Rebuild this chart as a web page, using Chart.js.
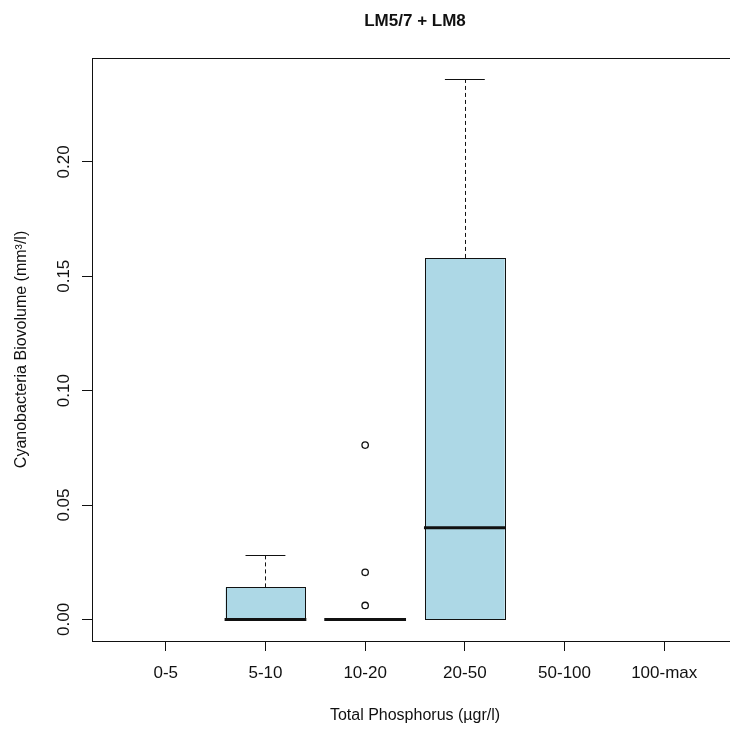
<!DOCTYPE html>
<html>
<head>
<meta charset="utf-8">
<script src="https://cdn.jsdelivr.net/npm/chart.js@4/dist/chart.umd.min.js"></script>
<style>
  html, body { margin: 0; padding: 0; background: #fff; overflow: hidden; }
  canvas { display: block; }
</style>
</head>
<body>
<canvas id="boxChart" width="745" height="731"></canvas>
<script>
const categories = ['0-5', '5-10', '10-20', '20-50', '50-100', '100-max'];
const q1 = [null, 0, 0, 0, null, null];
const q3 = [null, 0.014, 0, 0.158, null, null];
const medians = [null, 0, 0, 0.0401, null, null];
const whiskerLow = [null, 0, 0, 0, null, null];
const whiskerHigh = [null, 0.028, 0, 0.236, null, null];
const outliers = [[], [], [0.0762, 0.0206, 0.0061], [], [], []];
const yTicks = [0, 0.05, 0.10, 0.15, 0.20];

const font = '"Liberation Sans", Arial, sans-serif';
const ink = '#111';

// R pads the data range by 4% on each side
const yMax = 0.236;
const yMin = 0;
const yPad = (yMax - yMin) * 0.04;

const boxData = [];
categories.forEach((c, i) => {
  if (q1[i] !== null) boxData.push({ x: i + 1, y: [q1[i], q3[i]] });
});
const outlierData = [];
outliers.forEach((list, i) => list.forEach(v => outlierData.push({ x: i + 1, y: v })));

const crisp = v => Math.round(v) + 0.5;

const boxExtras = {
  id: 'boxExtras',
  afterDatasetsDraw(chart) {
    const { ctx, scales: { x, y } } = chart;
    ctx.save();
    ctx.strokeStyle = ink;
    // box outlines, from the bar elements
    ctx.lineWidth = 1;
    chart.getDatasetMeta(0).data.forEach(el => {
      const l = crisp(el.x - el.width / 2), r = crisp(el.x + el.width / 2);
      const t = crisp(Math.min(el.y, el.base)), b = crisp(Math.max(el.y, el.base));
      ctx.strokeRect(l, t, r - l, b - t);
    });
    categories.forEach((c, i) => {
      if (medians[i] === null) return;
      const cx = x.getPixelForValue(i + 1);
      const half = x.getPixelForValue(i + 1.2) - cx; // staple half width
      const boxHalf = x.getPixelForValue(i + 1.4) - cx;
      // whiskers
      [[q3[i], whiskerHigh[i]], [q1[i], whiskerLow[i]]].forEach(([from, to]) => {
        if (from === to) return;
        ctx.lineWidth = 1;
        ctx.setLineDash([4, 3]);
        ctx.beginPath();
        ctx.moveTo(crisp(cx), y.getPixelForValue(from));
        ctx.lineTo(crisp(cx), y.getPixelForValue(to));
        ctx.stroke();
        ctx.setLineDash([]);
        const ty = crisp(y.getPixelForValue(to));
        ctx.beginPath();
        ctx.moveTo(cx - half, ty);
        ctx.lineTo(cx + half, ty);
        ctx.stroke();
      });
      // median
      ctx.lineWidth = 3;
      ctx.setLineDash([]);
      const my = y.getPixelForValue(medians[i]);
      ctx.beginPath();
      ctx.moveTo(cx - boxHalf - 1, my);
      ctx.lineTo(cx + boxHalf + 1, my);
      ctx.stroke();
    });
    ctx.restore();
  },
  afterDraw(chart) {
    const { ctx, chartArea: a, scales: { y } } = chart;
    ctx.save();
    // frame
    ctx.strokeStyle = ink;
    ctx.lineWidth = 1;
    ctx.strokeRect(crisp(a.left), crisp(a.top),
      Math.round(a.right - a.left), Math.round(a.bottom - a.top));
    // rotated y tick labels, as R draws them
    ctx.fillStyle = ink;
    ctx.font = '17px ' + font;
    ctx.textAlign = 'center';
    ctx.textBaseline = 'middle';
    yTicks.forEach(v => {
      ctx.save();
      ctx.translate(64, y.getPixelForValue(v));
      ctx.rotate(-Math.PI / 2);
      ctx.fillText(v.toFixed(2), 0, 0);
      ctx.restore();
    });
    ctx.restore();
  }
};

new Chart(document.getElementById('boxChart'), {
  data: {
    datasets: [{
      type: 'bar',
      label: 'Box',
      data: boxData,
      backgroundColor: '#add8e6',
      borderWidth: 0,
      barPercentage: 0.8,
      categoryPercentage: 1.0,
      order: 2
    }, {
      type: 'scatter',
      label: 'Outliers',
      data: outlierData,
      pointStyle: 'circle',
      pointRadius: 3.2,
      pointBorderWidth: 1.3,
      pointBackgroundColor: '#fff',
      pointBorderColor: ink,
      order: 1
    }]
  },
  options: {
    responsive: false,
    animation: false,
    devicePixelRatio: 1,
    layout: { padding: { left: 0, right: 7, top: 0, bottom: 0 } },
    plugins: {
      legend: { display: false },
      tooltip: { enabled: false },
      title: {
        display: true,
        text: 'LM5/7 + LM8',
        fullSize: false,
        color: ink,
        font: { family: font, size: 17, weight: 'bold' },
        padding: { top: 11.5, bottom: 26 }
      }
    },
    scales: {
      x: {
        type: 'linear',
        min: 0.26,
        max: 6.74,
        offset: false,
        afterBuildTicks: s => { s.ticks = categories.map((c, i) => ({ value: i + 1 })); },
        afterFit: s => { s.height = 90; },
        border: { display: false },
        grid: { display: true, offset: false, drawOnChartArea: false, drawTicks: true, tickLength: 10, color: ink },
        ticks: {
          color: ink,
          font: { family: font, size: 17 },
          padding: 12,
          maxRotation: 0,
          autoSkip: false,
          callback: v => categories[v - 1]
        },
        title: {
          display: true,
          text: 'Total Phosphorus (µgr/l)',
          color: ink,
          font: { family: font, size: 16 },
          padding: { top: 0, bottom: 5.4 }
        }
      },
      y: {
        min: yMin - yPad,
        max: yMax + yPad,
        afterBuildTicks: s => { s.ticks = yTicks.map(v => ({ value: v })); },
        afterFit: s => { s.width = 92; },
        border: { display: false },
        grid: { display: true, drawOnChartArea: false, drawTicks: true, tickLength: 10, color: ink },
        ticks: { display: false },
        title: {
          display: true,
          text: 'Cyanobacteria Biovolume (mm³/l)',
          color: ink,
          font: { family: font, size: 16 },
          padding: { top: 12.4, bottom: 0 }
        }
      }
    }
  },
  plugins: [boxExtras]
});
</script>
</body>
</html>
